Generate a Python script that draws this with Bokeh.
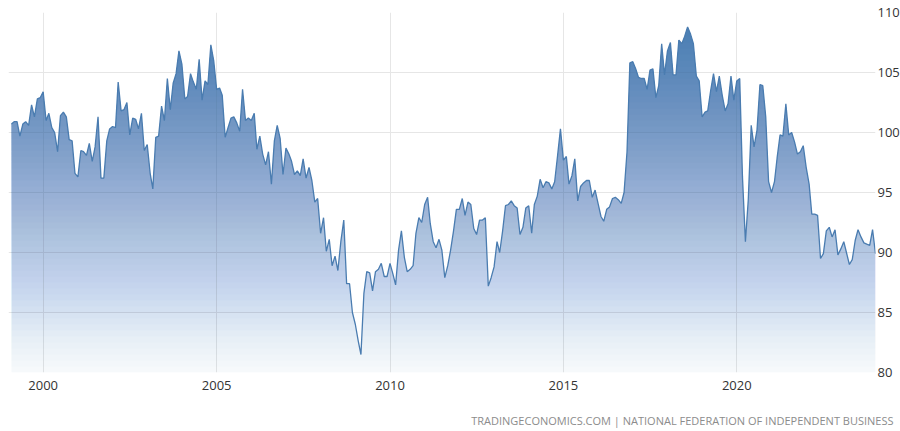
import numpy as np
import pandas as pd
from bokeh.plotting import figure
from bokeh.models import FixedTicker, DatetimeTickFormatter, Range1d, Title
from bokeh.embed import file_html
from bokeh.resources import INLINE

# ---------------- data (NFIB small business optimism index, monthly) ----------------
first_month = "1999-02-01"
v1999 = [100.7, 100.9, 100.9, 99.7, 100.7, 100.9, 100.6, 102.3, 101.3, 102.8, 102.9]
v2000 = [103.4, 101.0, 101.6, 100.4, 100.0, 98.4, 101.4, 101.7, 101.3, 99.4, 99.3, 96.6]
v2001 = [96.3, 98.5, 98.4, 98.1, 99.1, 97.6, 98.8, 101.3, 96.2, 96.2, 99.3, 100.3]
v2002 = [100.5, 100.4, 104.2, 101.8, 101.9, 102.5, 99.8, 101.2, 101.1, 100.3, 101.6, 98.5]
v2003 = [99.0, 96.6, 95.3, 99.6, 99.7, 102.2, 101.0, 104.5, 101.9, 104.1, 104.9, 106.8]
v2004 = [105.7, 102.8, 103.0, 104.9, 104.2, 103.6, 106.1, 102.7, 104.3, 104.0, 107.3, 106.0]
v2005 = [103.6, 103.7, 103.1, 99.6, 100.4, 101.2, 101.3, 100.8, 100.1, 103.6, 101.0, 101.2]
v2006 = [101.0, 101.6, 98.6, 99.7, 98.2, 97.3, 98.4, 95.7, 99.3, 100.6, 99.5, 96.5]
v2007 = [98.7, 98.2, 97.6, 96.5, 96.8, 96.4, 97.8, 96.2, 97.1, 96.0, 94.2, 94.5]
v2008 = [91.6, 92.9, 90.1, 91.1, 88.9, 89.7, 88.5, 90.9, 92.7, 87.4, 87.4, 85.0]
v2009 = [84.0, 82.6, 81.5, 86.6, 88.4, 88.3, 86.8, 88.4, 88.6, 89.1, 88.0, 88.0]
v2010 = [89.1, 88.2, 87.3, 90.2, 91.8, 89.6, 88.4, 88.6, 88.9, 91.6, 92.9, 92.5]
v2011 = [94.0, 94.6, 92.4, 90.9, 90.4, 91.1, 90.2, 87.9, 88.9, 90.2, 91.8, 93.6]
v2012 = [93.6, 94.5, 93.1, 94.2, 94.0, 92.0, 91.5, 92.7, 92.7, 92.9, 87.2, 87.9]
v2013 = [88.8, 90.9, 90.0, 91.8, 93.9, 94.0, 94.3, 93.9, 93.7, 91.5, 92.1, 93.7]
v2014 = [93.9, 91.6, 94.0, 94.7, 96.1, 95.4, 95.9, 95.8, 95.3, 95.9, 98.1, 100.3]
v2015 = [97.7, 98.0, 95.7, 96.4, 97.8, 94.3, 95.5, 95.8, 96.0, 96.0, 94.6, 95.2]
v2016 = [94.1, 93.0, 92.6, 93.6, 93.8, 94.5, 94.6, 94.4, 94.1, 95.0, 98.4, 105.8]
v2017 = [105.9, 105.3, 104.6, 104.5, 104.5, 103.6, 105.2, 105.3, 102.9, 103.9, 107.4, 104.8]
v2018 = [106.8, 107.5, 104.8, 104.8, 107.7, 107.4, 108.0, 108.8, 108.2, 107.4, 104.7, 104.3]
v2019 = [101.3, 101.7, 101.8, 103.5, 104.9, 103.4, 104.7, 103.1, 101.8, 102.4, 104.7, 102.7]
v2020 = [104.3, 104.5, 96.3, 90.9, 94.4, 100.6, 98.8, 100.2, 104.0, 103.9, 101.3, 95.9]
v2021 = [95.0, 95.9, 97.9, 99.8, 99.7, 102.4, 99.8, 100.0, 99.2, 98.2, 98.4, 98.9]
v2022 = [97.1, 95.7, 93.2, 93.2, 93.1, 89.5, 89.9, 91.8, 92.1, 91.3, 91.9, 89.8]
v2023 = [90.3, 90.9, 90.0, 89.0, 89.4, 91.0, 91.9, 91.3, 90.8, 90.7, 90.6, 91.9]
v2024 = [89.9]

y_ticks = [80, 85, 90, 95, 100, 105, 110]
x_tick_labels = ["2000", "2005", "2010", "2015", "2020"]
source_text = "TRADINGECONOMICS.COM | NATIONAL FEDERATION OF INDEPENDENT BUSINESS"

values = (v1999 + v2000 + v2001 + v2002 + v2003 + v2004 + v2005 + v2006 + v2007
          + v2008 + v2009 + v2010 + v2011 + v2012 + v2013 + v2014 + v2015 + v2016
          + v2017 + v2018 + v2019 + v2020 + v2021 + v2022 + v2023 + v2024)
dates = pd.date_range(first_month, periods=len(values), freq="MS")

# ---------------- figure ----------------
FRAME_W, FRAME_H = 867, 360
y_lo, y_hi = y_ticks[0], y_ticks[-1]
p = figure(
    x_axis_type="datetime", y_axis_location="right",
    frame_width=FRAME_W, frame_height=FRAME_H,
    x_range=Range1d(pd.Timestamp("1999-01-01"), dates[-1]),
    y_range=Range1d(y_lo, y_hi),
    output_backend="svg", toolbar_location=None,
    min_border_left=8, min_border_right=0, min_border_top=12, min_border_bottom=59,
)
p.outline_line_color = None
p.background_fill_color = "white"
p.border_fill_color = "white"

# ---------------- gradient area ----------------
# nested semi-transparent layers, each from a band floor up to the data line,
# so opacity accumulates with height (darker near the top)
xs = (dates.astype("int64") // 10**6).to_numpy().astype(float)
ys = np.array(values, dtype=float)
floors = np.arange(y_lo, y_hi, 0.5)
fine_x = list(xs)
for i in range(len(xs) - 1):
    a, b = ys[i], ys[i + 1]
    lo_, hi_ = min(a, b), max(a, b)
    cross = floors[(floors > lo_) & (floors < hi_)]
    if len(cross) and b != a:
        fine_x.extend(xs[i] + (cross - a) / (b - a) * (xs[i + 1] - xs[i]))
fine_x = np.unique(np.array(fine_x))
fine_y = np.interp(fine_x, xs, ys)

base_rgb = (70, 125, 180)

def target_alpha(v):
    return 0.04 + 0.94 * (v - y_lo) / (y_hi - y_lo)

prev = 0.0
for lo in floors:
    want = target_alpha(lo + 0.25)
    layer_alpha = 1.0 - (1.0 - want) / (1.0 - prev)
    prev = want
    keep = fine_y >= lo - 1e-9
    if not keep.any():
        continue
    p.varea(x=fine_x[keep], y1=lo, y2=np.maximum(fine_y[keep], lo),
            fill_color=base_rgb, fill_alpha=layer_alpha)

p.line(x=dates, y=values, line_color="#4a7cb0", line_width=1.3)

# ---------------- axes & grid ----------------
p.yaxis.ticker = FixedTicker(ticks=y_ticks)
tick_ms = [pd.Timestamp(f"{lab}-01-01").value // 10**6 for lab in x_tick_labels]
p.xaxis.ticker = FixedTicker(ticks=tick_ms)
p.xaxis.formatter = DatetimeTickFormatter(years="%Y", months="%Y", days="%Y",
                                          hours="%Y", minutes="%Y", seconds="%Y")
for ax in (p.xaxis, p.yaxis):
    ax.axis_line_color = None
    ax.major_tick_line_color = None
    ax.minor_tick_line_color = None
    ax.major_tick_out = 0
    ax.major_tick_in = 0
    ax.major_label_text_font = "Open Sans"
    ax.major_label_text_font_size = "13px"
    ax.major_label_text_color = "#333333"
p.yaxis.major_label_standoff = 2
p.xaxis.major_label_standoff = 8

p.xgrid.grid_line_color = "#e6e6e6"
p.ygrid.grid_line_color = "#e6e6e6"

p.add_layout(Title(
    text=source_text, align="right", offset=-18, standoff=36,
    text_font="Open Sans", text_font_size="11px", text_font_style="normal",
    text_color="#8c8c8c",
), "below")

open("out.html", "w").write(file_html(p, INLINE))
